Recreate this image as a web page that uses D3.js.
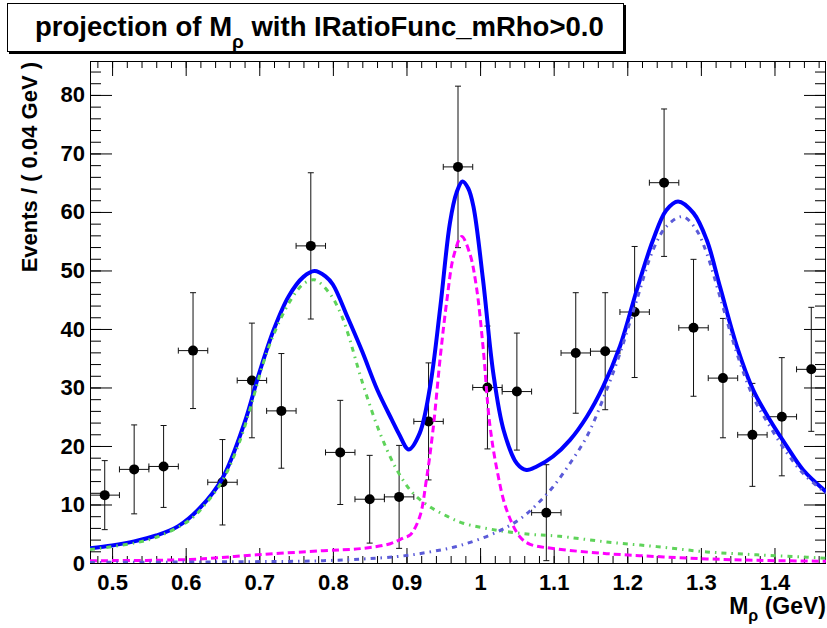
<!DOCTYPE html>
<html>
<head>
<meta charset="utf-8">
<script src="https://cdn.jsdelivr.net/npm/d3@7"></script>
<style>
  body { margin: 0; background: #fff; }
  svg { display: block; }
  text { font-family: "Liberation Sans", Arial, Helvetica, sans-serif; font-weight: bold; fill: #000; }
</style>
</head>
<body>
<svg id="chart" width="827" height="628"></svg>
<script>
// Binned data: bin centres (GeV), weighted counts and symmetric errors
const binCenters = [0.49, 0.53, 0.57, 0.61, 0.65, 0.69, 0.73, 0.77, 0.81, 0.85, 0.89, 0.93, 0.97,
                    1.01, 1.05, 1.09, 1.13, 1.17, 1.21, 1.25, 1.29, 1.33, 1.37, 1.41, 1.45];
const binCounts  = [11.6, 16.0, 16.5, 36.3, 13.8, 31.2, 26.0, 54.2, 18.9, 10.9, 11.3, 24.2, 67.7,
                    30.0, 29.3, 8.6, 35.9, 36.2, 42.9, 65.0, 40.2, 31.6, 21.9, 25.0, 33.1];
const binErrors  = [5.9, 7.6, 7.0, 9.9, 7.3, 9.8, 9.8, 12.5, 8.9, 7.5, 8.8, 10.0, 13.8,
                    10.5, 10.0, 8.2, 10.3, 10.0, 11.2, 12.6, 11.7, 10.2, 8.8, 10.1, 10.6];
const binHalfWidth = 0.02;

// Total fit curve
const totalMass = [0.47, 0.50, 0.53, 0.56, 0.59, 0.62, 0.65, 0.68, 0.70, 0.72, 0.74, 0.76, 0.775, 0.79,
                   0.80, 0.82, 0.84, 0.86, 0.88, 0.89, 0.903, 0.918, 0.932, 0.946, 0.959, 0.968, 0.976,
                   0.984, 0.991, 1.004, 1.018, 1.032, 1.050, 1.063, 1.077, 1.099, 1.122, 1.145, 1.167,
                   1.190, 1.213, 1.235, 1.253, 1.269, 1.290, 1.308, 1.326, 1.349, 1.371, 1.394, 1.417,
                   1.439, 1.47];
const totalFit  = [2.5, 3.0, 3.7, 4.7, 6.3, 9.5, 14.5, 24.0, 32.5, 40.0, 45.6, 48.9, 49.9, 49.0,
                   47.6, 42.0, 36.1, 29.7, 24.5, 22.0, 19.4, 22.2, 30.1, 43.8, 58.1, 63.3, 65.2,
                   64.0, 60.9, 48.4, 32.4, 22.7, 17.0, 15.9, 16.5, 18.2, 21.0, 25.0, 30.1,
                   37.0, 46.7, 55.2, 60.3, 61.8, 59.8, 55.2, 47.2, 37.0, 29.6, 24.4, 19.9,
                   15.9, 12.2];

// rho(770) component
const rhoMass = [0.47, 0.53, 0.56, 0.606, 0.629, 0.651, 0.674, 0.692, 0.705, 0.719, 0.742, 0.76, 0.775,
                 0.796, 0.81, 0.819, 0.841, 0.864, 0.887, 0.909, 0.932, 0.955, 0.977, 1.023, 1.068,
                 1.105, 1.172, 1.24, 1.308, 1.376, 1.444, 1.47];
const rhoFit  = [2.3, 3.4, 4.4, 7.4, 10.4, 14.3, 21.0, 28.3, 34.0, 38.9, 44.8, 47.7, 48.4,
                 46.0, 42.8, 39.8, 30.5, 22.2, 15.9, 11.9, 9.6, 8.0, 6.8, 5.6, 4.9,
                 4.6, 3.6, 2.8, 1.9, 1.4, 1.0, 0.8];

// f0(980) component
const f0Mass = [0.47, 0.606, 0.696, 0.787, 0.841, 0.878, 0.896, 0.905, 0.918, 0.927, 0.936, 0.946, 0.955,
                0.964, 0.975, 0.986, 0.995, 1.004, 1.013, 1.023, 1.036, 1.054, 1.068, 1.105, 1.172,
                1.24, 1.308, 1.376, 1.47];
const f0Fit  = [0.4, 0.6, 1.4, 2.1, 2.5, 3.3, 4.3, 4.8, 7.9, 14.2, 22.7, 35.3, 45.0,
                52.4, 55.8, 52.9, 47.2, 37.0, 23.9, 15.9, 9.1, 4.5, 3.2, 2.4, 1.6,
                1.1, 0.7, 0.45, 0.3];

// f2(1270) component
const f2Mass = [0.47, 0.65, 0.787, 0.887, 0.932, 0.973, 1.023, 1.054, 1.077, 1.099, 1.122, 1.145, 1.167,
                1.190, 1.213, 1.235, 1.253, 1.275, 1.294, 1.308, 1.326, 1.349, 1.371, 1.394, 1.417,
                1.439, 1.47];
const f2Fit  = [0.1, 0.2, 0.4, 1.1, 1.9, 3.0, 5.3, 7.5, 10.0, 13.0, 17.0, 21.6, 28.0,
                35.8, 45.0, 53.5, 57.5, 59.2, 56.9, 52.9, 45.5, 35.8, 28.4, 23.3, 18.8,
                15.3, 11.9];

// Axis ticks
const xTickValues = [0.5, 0.6, 0.7, 0.8, 0.9, 1.0, 1.1, 1.2, 1.3, 1.4];
const xTickLabels = ["0.5", "0.6", "0.7", "0.8", "0.9", "1", "1.1", "1.2", "1.3", "1.4"];
const yTickValues = [0, 10, 20, 30, 40, 50, 60, 70, 80];

const frame = { left: 90, right: 826, top: 61, bottom: 563 };
const svg = d3.select("#chart");

const x = d3.scaleLinear().domain([0.47, 1.47]).range([frame.left, frame.right]);
const y = d3.scaleLinear().domain([0, 85.8]).range([frame.bottom, frame.top]);

// Title pave with shadow
const pave = svg.append("g");
pave.append("rect").attr("x", 9).attr("y", 5).attr("width", 617).attr("height", 49).attr("fill", "#000");
pave.append("rect").attr("x", 7.5).attr("y", 3.5).attr("width", 616).attr("height", 48)
    .attr("fill", "#fff").attr("stroke", "#000").attr("stroke-width", 1);
const title = pave.append("text").attr("x", 35).attr("y", 36).style("font-size", "27.5px");
title.append("tspan").text("projection of M");
title.append("tspan").attr("dy", 12).style("font-size", "19px").text("ρ");
title.append("tspan").attr("dy", -12).text(" with IRatioFunc_mRho>0.0");

// Frame
svg.append("rect")
  .attr("x", frame.left + 0.5).attr("y", frame.top + 0.5)
  .attr("width", frame.right - frame.left - 1).attr("height", frame.bottom - frame.top)
  .attr("fill", "none").attr("stroke", "#000").attr("stroke-width", 1);

const xMinor = d3.range(24, 74).map(i => i * 0.02);
const yMinor = d3.range(0, 86, 2);

function styleAxis(g) {
  g.select(".domain").remove();
  g.selectAll(".tick line").attr("stroke", "#000").attr("stroke-width", 1);
  g.selectAll(".tick text").style("font-size", "22px").attr("fill", "#000")
    .style("font-family", "'Liberation Sans', Arial, sans-serif").style("font-weight", "bold");
}

// Bottom axis
svg.append("g").attr("transform", `translate(0,${frame.bottom})`)
  .call(d3.axisBottom(x).tickValues(xMinor).tickSize(-7).tickFormat(""))
  .call(styleAxis);
svg.append("g").attr("transform", `translate(0,${frame.bottom})`)
  .call(d3.axisBottom(x).tickValues(xTickValues).tickSize(-15).tickPadding(11)
        .tickFormat((d, i) => xTickLabels[i]))
  .call(styleAxis);
// Top axis
svg.append("g").attr("transform", `translate(0,${frame.top})`)
  .call(d3.axisTop(x).tickValues(xMinor).tickSize(-7).tickFormat(""))
  .call(styleAxis);
svg.append("g").attr("transform", `translate(0,${frame.top})`)
  .call(d3.axisTop(x).tickValues(xTickValues).tickSize(-15).tickFormat(""))
  .call(styleAxis);
// Left axis
svg.append("g").attr("transform", `translate(${frame.left},0)`)
  .call(d3.axisLeft(y).tickValues(yMinor).tickSize(-11).tickFormat(""))
  .call(styleAxis);
svg.append("g").attr("transform", `translate(${frame.left},0)`)
  .call(d3.axisLeft(y).tickValues(yTickValues).tickSize(-22).tickPadding(5).tickFormat(d3.format("d")))
  .call(styleAxis);
// Right axis
svg.append("g").attr("transform", `translate(${frame.right},0)`)
  .call(d3.axisRight(y).tickValues(yMinor).tickSize(-11).tickFormat(""))
  .call(styleAxis);
svg.append("g").attr("transform", `translate(${frame.right},0)`)
  .call(d3.axisRight(y).tickValues(yTickValues).tickSize(-22).tickFormat(""))
  .call(styleAxis);

// Axis titles
const xt = svg.append("text").attr("x", 826).attr("y", 614).attr("text-anchor", "end").style("font-size", "23px");
xt.append("tspan").text("M");
xt.append("tspan").attr("dy", 7).style("font-size", "16px").text("ρ");
xt.append("tspan").attr("dy", -7).text(" (GeV)");

svg.append("text")
  .attr("transform", "translate(37,62) rotate(-90)")
  .attr("text-anchor", "end").style("font-size", "22px")
  .text("Events / ( 0.04 GeV )");

// Clip region
svg.append("clipPath").attr("id", "plotClip").append("rect")
  .attr("x", frame.left).attr("y", frame.top)
  .attr("width", frame.right - frame.left).attr("height", frame.bottom - frame.top);
const plot = svg.append("g").attr("clip-path", "url(#plotClip)");

// Data points with error bars
const pts = binCenters.map((c, i) => ({ c, v: binCounts[i], e: binErrors[i] }));
const cap = 3;
const eb = plot.append("g").attr("stroke", "#111").attr("stroke-width", 1);
pts.forEach(p => {
  const cx = x(p.c), cy = y(p.v);
  const x0 = x(p.c - binHalfWidth), x1 = x(p.c + binHalfWidth);
  const yt = y(p.v + p.e), yb = y(Math.max(0, p.v - p.e));
  eb.append("line").attr("x1", x0).attr("x2", x1).attr("y1", cy).attr("y2", cy);
  eb.append("line").attr("x1", x0).attr("x2", x0).attr("y1", cy - cap).attr("y2", cy + cap);
  eb.append("line").attr("x1", x1).attr("x2", x1).attr("y1", cy - cap).attr("y2", cy + cap);
  eb.append("line").attr("x1", cx).attr("x2", cx).attr("y1", yt).attr("y2", yb);
  eb.append("line").attr("x1", cx - cap).attr("x2", cx + cap).attr("y1", yt).attr("y2", yt);
  eb.append("line").attr("x1", cx - cap).attr("x2", cx + cap).attr("y1", yb).attr("y2", yb);
});
plot.append("g").selectAll("circle").data(pts).join("circle")
  .attr("cx", d => x(d.c)).attr("cy", d => y(d.v)).attr("r", 5).attr("fill", "#000");

// Fit curves
const line = d3.line().x(d => x(d[0])).y(d => y(d[1])).curve(d3.curveCatmullRom.alpha(0.5));
const zip = (a, b) => a.map((v, i) => [v, b[i]]);

plot.append("path").datum(zip(totalMass, totalFit)).attr("d", line)
  .attr("fill", "none").attr("stroke", "#0000ff").attr("stroke-width", 4);
plot.append("path").datum(zip(rhoMass, rhoFit)).attr("d", line)
  .attr("fill", "none").attr("stroke", "#5fd35a").attr("stroke-width", 3)
  .attr("stroke-dasharray", "5,5,1.5,5");
plot.append("path").datum(zip(f0Mass, f0Fit)).attr("d", line)
  .attr("fill", "none").attr("stroke", "#ff00ff").attr("stroke-width", 3)
  .attr("stroke-dasharray", "7,4");
plot.append("path").datum(zip(f2Mass, f2Fit)).attr("d", line)
  .attr("fill", "none").attr("stroke", "#5b5bd8").attr("stroke-width", 3)
  .attr("stroke-dasharray", "5,5,1.5,5");
</script>
</body>
</html>
